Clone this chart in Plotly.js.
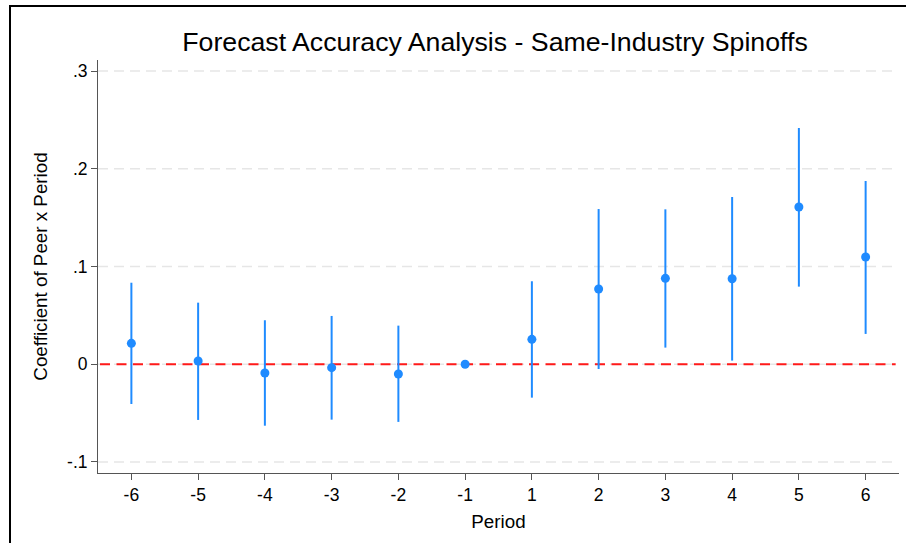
<!DOCTYPE html>
<html>
<head>
<meta charset="utf-8">
<script src="https://cdn.plot.ly/plotly-3.0.1.min.js"></script>
<style>
  html, body { margin: 0; padding: 0; background: #fff; }
  #wrap { position: relative; width: 906px; height: 543px; overflow: hidden; }
  #chart { position: absolute; left: 0; top: 0; width: 906px; height: 543px; }
  #frame { position: absolute; left: 9px; top: 5px; width: 1000px; height: 1000px;
           border-top: 2px solid #000; border-left: 2px solid #000; pointer-events: none; }
</style>
</head>
<body>
<div id="wrap">
  <div id="chart"></div>
  <div id="frame"></div>
</div>
<script>
// Data
const periods = ['-6', '-5', '-4', '-3', '-2', '-1', '1', '2', '3', '4', '5', '6'];
const coef    = [0.0214, 0.0033, -0.0090, -0.0035, -0.0100, 0.0000, 0.0255, 0.0770, 0.0879, 0.0875, 0.1609, 0.1097];
const ciUpper = [0.0834, 0.0630, 0.0450, 0.0494, 0.0395, 0.0000, 0.0849, 0.1588, 0.1585, 0.1711, 0.2417, 0.1875];
const ciLower = [-0.0407, -0.0570, -0.0629, -0.0567, -0.0590, 0.0000, -0.0342, -0.0049, 0.0170, 0.0037, 0.0794, 0.0310];
const yTickVals = [-0.1, 0, 0.1, 0.2, 0.3];
const yTickText = ['-.1', '0', '.1', '.2', '.3'];
const refLineY = 0;

const blue = '#1f8bff';
const errPlus = coef.map((c, i) => ciUpper[i] - c);
const errMinus = coef.map((c, i) => c - ciLower[i]);
const xRange = [-0.5, periods.length - 0.5];

const trace = {
  type: 'scatter',
  mode: 'markers',
  x: periods,
  y: coef,
  marker: { color: blue, size: 9 },
  error_y: {
    type: 'data', symmetric: false,
    array: errPlus, arrayminus: errMinus,
    color: blue, thickness: 2, width: 0
  },
  hoverinfo: 'x+y'
};

const font = 'Liberation Sans, Arial, Helvetica, sans-serif';

// gridlines drawn as shapes so the red reference line can sit above them
const gridShapes = yTickVals.map(v => ({
  type: 'line', xref: 'x', yref: 'y',
  x0: xRange[0], x1: xRange[1] - 0.04, y0: v, y1: v,
  line: { color: '#e6e6e6', width: 1.5, dash: '10px,6px' },
  layer: 'below'
}));
const refShape = {
  type: 'line', xref: 'x', yref: 'y',
  x0: xRange[0] + 0.03, x1: xRange[1] - 0.05, y0: refLineY, y1: refLineY,
  line: { color: '#ff1a1a', width: 2, dash: '10px,6.5px' },
  layer: 'below'
};

const layout = {
  width: 906, height: 543,
  margin: { l: 98, r: 7, t: 60, b: 70, pad: 0 },
  paper_bgcolor: '#ffffff',
  plot_bgcolor: '#ffffff',
  showlegend: false,
  font: { family: font, color: '#000', size: 17.5 },
  title: {
    text: 'Forecast Accuracy Analysis - Same-Industry Spinoffs',
    font: { family: font, size: 26.7, color: '#000' },
    x: 0.5464, xref: 'container', xanchor: 'center',
    y: 0.9227, yref: 'container', yanchor: 'middle'
  },
  xaxis: {
    type: 'category',
    categoryorder: 'array', categoryarray: periods,
    range: xRange,
    showgrid: false, zeroline: false,
    showline: true, linecolor: '#555', linewidth: 1,
    ticks: 'outside', ticklen: 6, tickwidth: 1, tickcolor: '#555',
    tickfont: { family: font, size: 17.5, color: '#000' },
    title: { text: 'Period', font: { family: font, size: 18.8, color: '#000' }, standoff: 10 }
  },
  yaxis: {
    range: [-0.1113, 0.3113],
    tickvals: yTickVals, ticktext: yTickText,
    showgrid: false,
    zeroline: false,
    showline: true, linecolor: '#555', linewidth: 1,
    ticks: 'outside', ticklen: 6, tickwidth: 1, tickcolor: '#555',
    tickfont: { family: font, size: 17.5, color: '#000' },
    title: { text: 'Coefficient of Peer x Period', font: { family: font, size: 18.8, color: '#000' }, standoff: 14 }
  },
  shapes: gridShapes.concat([refShape])
};

Plotly.newPlot('chart', [trace], layout, { displayModeBar: false, staticPlot: true });
</script>
</body>
</html>
